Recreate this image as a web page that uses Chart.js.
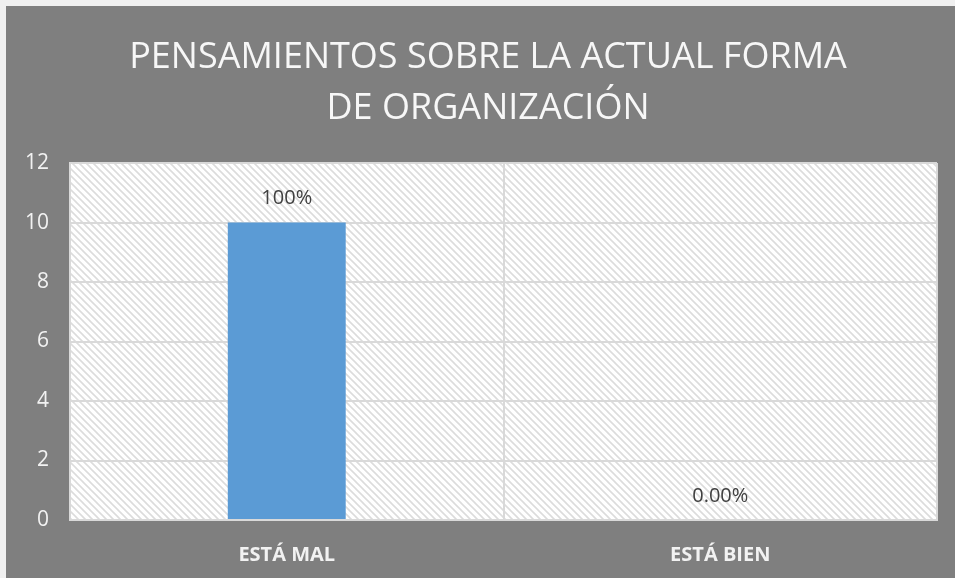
<!DOCTYPE html>
<html>
<head>
<meta charset="utf-8">
<script src="https://cdn.jsdelivr.net/npm/chart.js@4.4.0/dist/chart.umd.min.js"></script>
<style>
  body { margin: 0; background: #f0f0f0; }
  #wrap { position: absolute; left: 6px; top: 6px; width: 949px; height: 572px; background: #7f7f7f; }
</style>
</head>
<body>
<div id="wrap"><canvas id="chart" width="949" height="572"></canvas></div>
<script>
// Chart data
const titleLines = ['PENSAMIENTOS SOBRE LA ACTUAL FORMA', 'DE ORGANIZACIÓN'];
const categories = ['ESTÁ MAL', 'ESTÁ BIEN'];
const values = [10, 0];
const valueLabels = ['100%', '0.00%'];
const yTicks = [0, 2, 4, 6, 8, 10, 12];

// Diagonal hatch used behind the plot
function makeHatch() {
  const size = 7;
  const c = document.createElement('canvas');
  c.width = size;
  c.height = size;
  const g = c.getContext('2d');
  g.fillStyle = '#ffffff';
  g.fillRect(0, 0, size, size);
  g.strokeStyle = '#dcdcdc';
  g.lineWidth = 1.6;
  g.beginPath();
  g.moveTo(-1, -1); g.lineTo(size + 1, size + 1);
  g.moveTo(-1, size - 1); g.lineTo(1, size + 1);
  g.moveTo(size - 1, -1); g.lineTo(size + 1, 1);
  g.stroke();
  return g.createPattern(c, 'repeat');
}

const plotBackground = {
  id: 'plotBackground',
  beforeDraw(chart) {
    const { ctx, chartArea } = chart;
    ctx.save();
    ctx.fillStyle = makeHatch();
    ctx.fillRect(chartArea.left, chartArea.top, chartArea.right - chartArea.left, chartArea.bottom - chartArea.top);
    ctx.restore();
  }
};

// Value labels above bars
const valueLabelPlugin = {
  id: 'valueLabels',
  afterDatasetsDraw(chart) {
    const { ctx } = chart;
    const meta = chart.getDatasetMeta(0);
    ctx.save();
    ctx.font = '20px "Open Sans"';
    ctx.fillStyle = '#404040';
    ctx.textAlign = 'center';
    ctx.textBaseline = 'middle';
    meta.data.forEach((bar, i) => {
      ctx.fillText(valueLabels[i], bar.x, bar.y - 24);
    });
    ctx.restore();
  }
};

new Chart(document.getElementById('chart'), {
  type: 'bar',
  data: {
    labels: categories,
    datasets: [{
      data: values,
      backgroundColor: '#5b9bd5',
      borderWidth: 0,
      barPercentage: 0.272,
      categoryPercentage: 1
    }]
  },
  options: {
    responsive: false,
    animation: false,
    layout: { padding: { left: 15, right: 0, top: 0, bottom: 0 } },
    plugins: {
      legend: { display: false },
      tooltip: { enabled: false },
      title: {
        display: true,
        text: titleLines,
        color: '#f7f7f7',
        font: { family: 'Open Sans', size: 36, weight: 'normal', lineHeight: 1.417 },
        padding: { top: 26, bottom: 29 }
      }
    },
    scales: {
      x: {
        grid: { color: '#d9d9d9', lineWidth: 2, drawTicks: false, offset: true },
        border: { color: '#d9d9d9', width: 2 },
        ticks: {
          color: '#f2f2f2',
          padding: 23,
          font: { family: 'Open Sans', size: 20, weight: 'bold' }
        },
        afterFit(scale) { scale.height = 58; }
      },
      y: {
        min: 0,
        max: 12,
        afterBuildTicks(scale) { scale.ticks = yTicks.map(v => ({ value: v })); },
        grid: { color: '#d9d9d9', lineWidth: 2, drawTicks: false },
        border: { color: '#d9d9d9', width: 2 },
        ticks: {
          color: '#f2f2f2',
          padding: 21,
          font: { family: 'Open Sans', size: 21 }
        },
        afterFit(scale) { scale.width = 49; }
      },
      // empty right-hand axis that only keeps the gap on the right
      gap: {
        type: 'linear',
        position: 'right',
        grid: { display: false },
        border: { display: false },
        ticks: { display: false },
        afterFit(scale) { scale.width = 18; }
      }
    }
  },
  plugins: [plotBackground, valueLabelPlugin]
});
</script>
</body>
</html>
